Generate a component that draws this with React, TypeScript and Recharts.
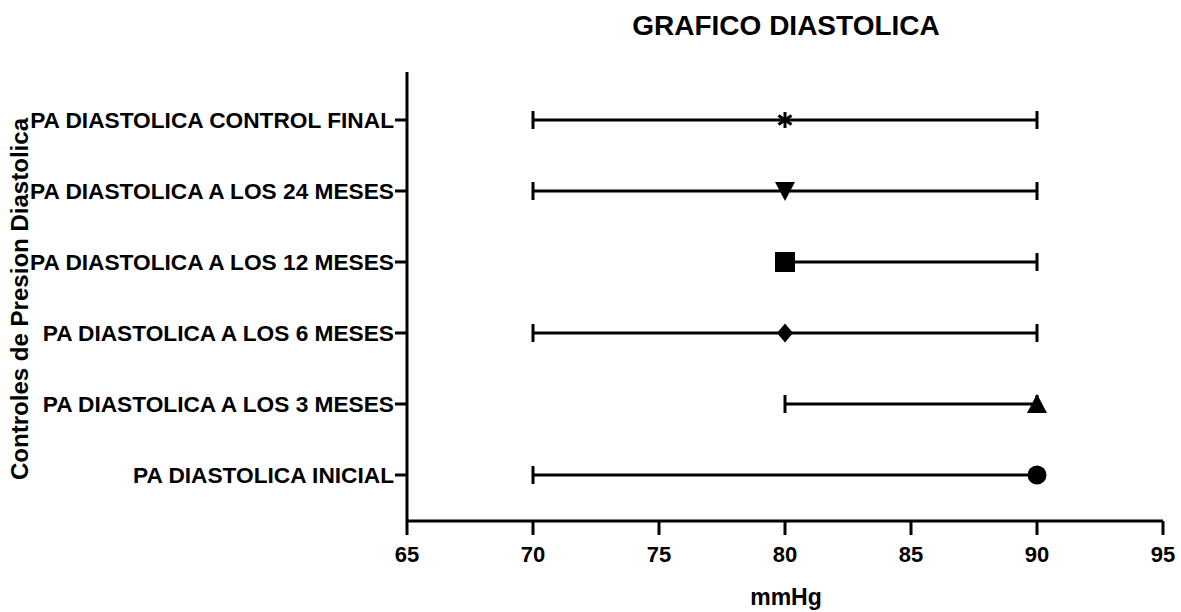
import React from 'react';
import { ScatterChart, Scatter, XAxis, YAxis, ErrorBar } from 'recharts';

const categories = [
  'PA DIASTOLICA INICIAL',
  'PA DIASTOLICA A LOS 3 MESES',
  'PA DIASTOLICA A LOS 6 MESES',
  'PA DIASTOLICA A LOS 12 MESES',
  'PA DIASTOLICA A LOS 24 MESES',
  'PA DIASTOLICA CONTROL FINAL',
];
const medians = [90, 90, 80, 80, 80, 80];
const mins = [70, 80, 70, 80, 70, 70];
const maxs = [90, 90, 90, 90, 90, 90];
const markers = ['circle', 'triangle', 'diamond', 'square', 'triangleDown', 'asterisk'];
const rowTicks = [1, 2, 3, 4, 5, 6];
const xTicks = [65, 70, 75, 80, 85, 90, 95];

const data = categories.map((c, i) => ({
  row: i + 1,
  name: c,
  median: medians[i],
  err: [medians[i] - mins[i], maxs[i] - medians[i]],
  marker: markers[i],
}));

const FONT = '"Liberation Sans", Arial, sans-serif';
const xTickStyle = { fontSize: 22, fontWeight: 700, fill: '#000', fontFamily: FONT };
const yTickStyle = { fontSize: 22.7, fontWeight: 700, fill: '#000', fontFamily: FONT };

function Marker(props: any) {
  const { cx, cy, payload } = props;
  if (cx == null || cy == null) return null;
  switch (payload.marker) {
    case 'circle':
      return <circle cx={cx} cy={cy} r={9.5} fill="#000" />;
    case 'triangle':
      return <polygon points={`${cx},${cy - 10} ${cx - 10},${cy + 9} ${cx + 10},${cy + 9}`} fill="#000" />;
    case 'triangleDown':
      return <polygon points={`${cx},${cy + 10} ${cx - 10},${cy - 9} ${cx + 10},${cy - 9}`} fill="#000" />;
    case 'diamond':
      return <polygon points={`${cx},${cy - 9.5} ${cx + 8},${cy} ${cx},${cy + 9.5} ${cx - 8},${cy}`} fill="#000" />;
    case 'square':
      return <rect x={cx - 10} y={cy - 10} width={20} height={20} fill="#000" />;
    case 'asterisk':
      return (
        <g stroke="#000" strokeWidth={3}>
          <line x1={cx} y1={cy - 8} x2={cx} y2={cy + 8} />
          <line x1={cx - 6.5} y1={cy - 4.5} x2={cx + 6.5} y2={cy + 4.5} />
          <line x1={cx - 6.5} y1={cy + 4.5} x2={cx + 6.5} y2={cy - 4.5} />
        </g>
      );
    default:
      return null;
  }
}

export default function App() {
  return (
    <div style={{ position: 'absolute', left: 0, top: 0, width: 1181, height: 612, background: '#fff' }}>
      <ScatterChart width={1181} height={612} margin={{ top: 72, right: 18, bottom: 0, left: 0 }}>
        <XAxis
          type="number"
          dataKey="median"
          domain={[65, 95]}
          ticks={xTicks}
          height={91}
          tickSize={14}
          tickMargin={11}
          tick={xTickStyle}
          axisLine={{ stroke: '#000', strokeWidth: 3 }}
          tickLine={{ stroke: '#000', strokeWidth: 3 }}
          interval={0}
        />
        <YAxis
          type="number"
          dataKey="row"
          domain={[0.352, 6.676]}
          ticks={rowTicks}
          tickFormatter={(v: number) => categories[v - 1]}
          width={407}
          tickSize={12}
          tickMargin={1}
          tick={yTickStyle}
          axisLine={{ stroke: '#000', strokeWidth: 3 }}
          tickLine={{ stroke: '#000', strokeWidth: 3 }}
          interval={0}
        />
        <Scatter data={data} shape={Marker} isAnimationActive={false} fill="#000">
          <ErrorBar dataKey="err" direction="x" width={9} strokeWidth={3} stroke="#000" />
        </Scatter>
      </ScatterChart>
      <svg
        width={1181}
        height={612}
        style={{ position: 'absolute', left: 0, top: 0, pointerEvents: 'none' }}
        fontFamily={FONT}
        fontWeight={700}
      >
        <text x={786} y={35} textAnchor="middle" fontSize={28} fill="#000">GRAFICO DIASTOLICA</text>
        <text x={786} y={605} textAnchor="middle" fontSize={23} fill="#000">mmHg</text>
        <text
          x={0}
          y={0}
          textAnchor="middle"
          fontSize={23}
          fill="#000"
          textLength={362}
          lengthAdjust="spacingAndGlyphs"
          transform="translate(28, 299) rotate(-90)"
        >
          Controles de Presion Diastolica
        </text>
      </svg>
    </div>
  );
}
